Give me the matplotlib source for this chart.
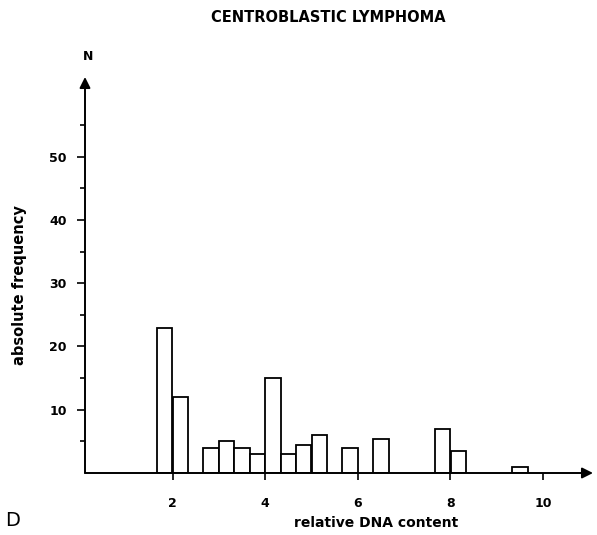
import numpy as np
import matplotlib.pyplot as plt

# DNA histogram, classes 1/3 wide (centre of each class) and their counts
dna_bins = [1.83, 2.17, 2.83, 3.17, 3.5, 3.83, 4.17, 4.5, 4.83, 5.17,
            5.83, 6.5, 7.83, 8.17, 9.5]
counts = [23, 12, 4, 5, 4, 3, 15, 3, 4.4, 6, 4, 5.3, 7, 3.4, 1]
bin_width = 1 / 3

x_ticks = [2, 4, 6, 8, 10]
y_ticks = [10, 20, 30, 40, 50]
y_minor = [5, 15, 25, 35, 45, 55]

fig = plt.figure(figsize=(5.97, 5.35), dpi=100)
ax = fig.add_axes([85 / 597, 1 - 473 / 535, 508 / 597, 396 / 535])

ax.bar(dna_bins, counts, width=bin_width, color='white',
       edgecolor='black', linewidth=1.3, zorder=2)

ax.set_xlim(0.11, 11.08)
ax.set_ylim(0, 62.6)

for s in ax.spines.values():
    s.set_visible(False)

# axes drawn as arrows
arrow = dict(arrowstyle='-|>', color='black', lw=1.4, mutation_scale=16,
             shrinkA=0, shrinkB=0)
ax.annotate('', xy=(0, 1), xytext=(0, 0), xycoords='axes fraction',
            arrowprops=arrow, zorder=3)
ax.annotate('', xy=(1, 0), xytext=(0, 0), xycoords='axes fraction',
            arrowprops=arrow, zorder=3)

ax.set_xticks(x_ticks)
ax.set_yticks(y_ticks)
ax.set_yticks(y_minor, minor=True)
ax.tick_params(axis='y', which='major', length=6, width=1.2, pad=7, labelsize=9)
ax.tick_params(axis='y', which='minor', length=3.5, width=1.2)
ax.tick_params(axis='x', which='major', length=5, width=1.2, pad=12, labelsize=9)
for lbl in ax.get_xticklabels() + ax.get_yticklabels():
    lbl.set_fontweight('bold')

fig.text(328 / 597, 1 - 17 / 535, 'CENTROBLASTIC LYMPHOMA', ha='center',
         va='center', fontsize=10.5, fontweight='bold')
fig.text(88 / 597, 1 - 57 / 535, 'N', ha='center', va='center',
         fontsize=9, fontweight='bold')
fig.text(20 / 597, 1 - 285 / 535, 'absolute frequency', rotation=90,
         ha='center', va='center', fontsize=10.5, fontweight='bold')
fig.text(376 / 597, 1 - 523 / 535, 'relative DNA content', ha='center',
         va='center', fontsize=10, fontweight='bold')
fig.text(13 / 597, 1 - 520 / 535, 'D', ha='center', va='center', fontsize=14)

fig.savefig('out.png', dpi=100)
